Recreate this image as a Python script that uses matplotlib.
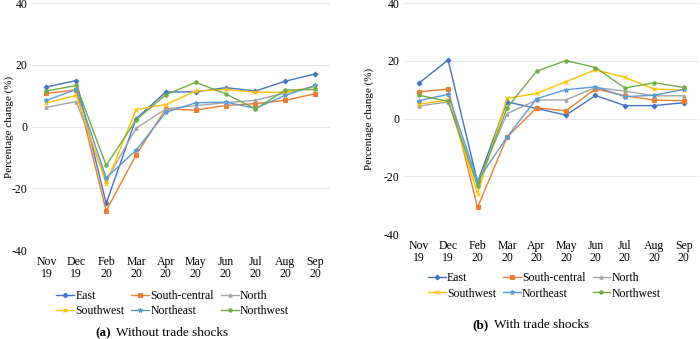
import matplotlib
matplotlib.use("Agg")
from matplotlib import pyplot as plt

plt.rcParams['font.family'] = ['Liberation Serif', 'DejaVu Serif']

months = ["Nov\n19", "Dec\n19", "Feb\n20", "Mar\n20", "Apr\n20", "May\n20",
          "Jun\n20", "Jul\n20", "Aug\n20", "Sep\n20"]
regions = ["East", "South-central", "North", "Southwest", "Northeast", "Northwest"]
colors = ["#4472C4", "#ED7D31", "#A5A5A5", "#FFC000", "#5B9BD5", "#70AD47"]
markers = ["D", "s", "^", "x", "*", "o"]

# (a) without trade shocks
east_a = [12.8, 14.9, -24.9, 2.5, 11.2, 11.2, 12.6, 11.5, 14.7, 17.0]
south_central_a = [10.7, 11.9, -27.3, -9.2, 5.7, 5.3, 6.8, 7.4, 8.5, 10.6]
north_a = [6.2, 8.1, -17.5, -0.6, 5.7, 6.8, 7.7, 8.5, 10.9, 12.9]
southwest_a = [7.6, 10.1, -18.5, 5.5, 7.1, 11.5, 12.0, 11.1, 11.1, 12.9]
northeast_a = [8.5, 12.0, -16.6, -7.7, 4.6, 7.7, 7.9, 5.9, 10.1, 13.3]
northwest_a = [11.5, 13.3, -12.6, 2.1, 10.3, 14.3, 10.6, 5.7, 11.8, 12.0]

# (b) with trade shocks
east_b = [12.2, 20.3, -22.0, 5.8, 3.5, 1.2, 8.0, 4.5, 4.5, 5.5]
south_central_b = [9.2, 10.3, -30.8, -6.4, 3.7, 2.7, 10.3, 7.9, 6.4, 6.2]
north_b = [4.3, 5.8, -22.3, 1.7, 6.4, 6.5, 10.8, 9.5, 7.9, 7.9]
southwest_b = [5.0, 6.4, -26.0, 7.0, 8.7, 12.8, 16.9, 14.3, 10.2, 9.9]
northeast_b = [6.2, 8.4, -21.5, -6.4, 6.9, 10.0, 11.0, 7.6, 8.1, 10.1]
northwest_b = [8.1, 6.0, -23.4, 3.7, 16.4, 20.1, 17.7, 10.6, 12.4, 10.8]

series_a = [east_a, south_central_a, north_a, southwest_a, northeast_a, northwest_a]
series_b = [east_b, south_central_b, north_b, southwest_b, northeast_b, northwest_b]

fig = plt.figure(figsize=(7, 3.39), dpi=100)
ax1 = fig.add_axes([0.045, 0.2625, 0.4266, 0.7286])
ax2 = fig.add_axes([0.577, 0.3097, 0.421, 0.681])


def draw_panel(ax, series, label_x):
    x = range(len(months))
    for vals, name, c, m in zip(series, regions, colors, markers):
        ms = 3.3 if m in ("x", "*") else 2.4
        ax.plot(x, vals, color=c, marker=m, markersize=ms, linewidth=1.0,
                label=name, markeredgewidth=0.8)
    ax.set_xlim(-0.5, len(months) - 0.5)
    ax.set_ylim(-40, 40)
    ax.set_yticks([-40, -20, 0, 20, 40])
    ax.set_yticklabels(["-40", "-20", "0", "20", "40"], fontsize=8.5)
    ax.set_xticks(list(x))
    ax.set_xticklabels(months, fontsize=8.5, linespacing=1.1)
    ax.grid(axis='y', color='#E6E6E6', linewidth=0.8)
    ax.set_axisbelow(True)
    for s in ax.spines.values():
        s.set_visible(False)
    ax.tick_params(axis='y', length=0, pad=3)
    ax.tick_params(axis='x', length=0, pad=4)
    ax.set_ylabel("Percentage change (%)", fontsize=8)
    ax.yaxis.set_label_coords(label_x, 0.5)


draw_panel(ax1, series_a, -0.058)
draw_panel(ax2, series_b, -0.1)

# legend order: matplotlib fills column-wise
order = [0, 3, 1, 4, 2, 5]
for ax, anchor in [(ax1, (0.072, 0.163)), (ax2, (0.603, 0.215))]:
    h, l = ax.get_legend_handles_labels()
    fig.legend([h[i] for i in order], [l[i] for i in order], ncol=3,
               loc='upper left', bbox_to_anchor=anchor, frameon=False,
               fontsize=8.5, handlelength=1.5, handletextpad=0.1,
               columnspacing=0.6, labelspacing=0.3, borderpad=0)

fig.text(0.136, 0.018, "(a)", fontsize=9.5, fontweight='bold', va='center')
fig.text(0.166, 0.018, "Without trade shocks", fontsize=9.5, va='center')
fig.text(0.675, 0.041, "(b)", fontsize=9.5, fontweight='bold', va='center')
fig.text(0.705, 0.041, "With trade shocks", fontsize=9.5, va='center')

plt.savefig("out.png", dpi=100)
